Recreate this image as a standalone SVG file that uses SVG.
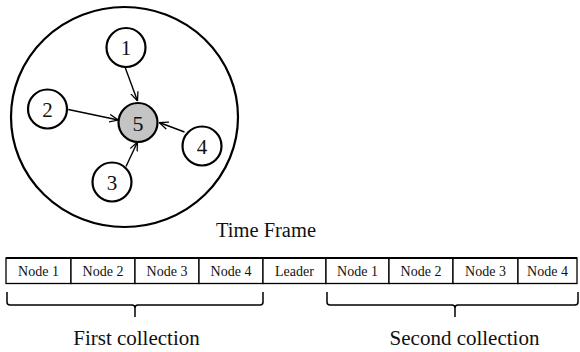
<svg xmlns="http://www.w3.org/2000/svg" width="580" height="352" viewBox="0 0 580 352">
  <style>
    .ring { fill: none; stroke: #000; stroke-width: 2.2; }
    .node circle { fill: #fff; stroke: #000; stroke-width: 2.2; }
    .node.hub circle { fill: #c4c4c4; }
    .num { font-family: "Liberation Serif", "Times New Roman", serif; font-size: 21px; text-anchor: middle; fill: #111; }
    .edge { stroke: #000; stroke-width: 1.4; fill: none; marker-end: url(#head); }
    .cell { fill: #fff; stroke: #000; stroke-width: 1.3; }
    .cell-text { font-family: "Liberation Serif", "Times New Roman", serif; font-size: 14px; text-anchor: middle; fill: #111; }
    .caption { font-family: "Liberation Serif", "Times New Roman", serif; font-size: 20.5px; text-anchor: middle; fill: #111; }
    .brace { fill: none; stroke: #000; stroke-width: 1.5; }
  </style>
  <defs>
    <marker id="head" viewBox="0 0 10 10" refX="10" refY="5" markerWidth="9" markerHeight="9" markerUnits="userSpaceOnUse" orient="auto">
      <path d="M0,0.8 L10,5 L0,9.2" fill="none" stroke="#000" stroke-width="1.4"/>
    </marker>
  </defs>

  <!-- cluster boundary -->
  <ellipse class="ring" cx="124.5" cy="117" rx="113.5" ry="110"/>

  <!-- links from members to the leader -->
  <g id="connectors">
    <line class="edge" x1="125" y1="67" x2="137.5" y2="101"/>
    <line class="edge" x1="68.3" y1="109.5" x2="118.3" y2="120"/>
    <line class="edge" x1="126" y1="166.5" x2="137.5" y2="142"/>
    <line class="edge" x1="184.5" y1="132" x2="159.3" y2="122.5"/>
  </g>

  <g id="node1" class="node">
    <circle cx="126" cy="47.5" r="19.5"/>
    <text class="num" x="126" y="55">1</text>
  </g>
  <g id="node2" class="node">
    <circle cx="47.5" cy="109" r="19.5"/>
    <text class="num" x="47.5" y="116.5">2</text>
  </g>
  <g id="node3" class="node">
    <circle cx="112" cy="182" r="19.5"/>
    <text class="num" x="112" y="189.5">3</text>
  </g>
  <g id="node4" class="node">
    <circle cx="202" cy="146" r="19.5"/>
    <text class="num" x="202" y="153.5">4</text>
  </g>
  <g id="node5" class="node hub">
    <circle cx="138" cy="122.5" r="19.5"/>
    <text class="num" x="138" y="130.5" style="font-size:22px">5</text>
  </g>

  <!-- time frame -->
  <text class="caption" x="266" y="237">Time Frame</text>
  <g id="frame">
    <rect class="cell" x="6" y="258" width="65" height="25.5"/>
    <rect class="cell" x="71" y="258" width="64" height="25.5"/>
    <rect class="cell" x="135" y="258" width="64" height="25.5"/>
    <rect class="cell" x="199" y="258" width="64" height="25.5"/>
    <rect class="cell" x="263" y="258" width="63" height="25.5"/>
    <rect class="cell" x="326" y="258" width="63" height="25.5"/>
    <rect class="cell" x="389" y="258" width="64" height="25.5"/>
    <rect class="cell" x="453" y="258" width="65" height="25.5"/>
    <rect class="cell" x="518" y="258" width="59" height="25.5"/>
    <line x1="6" y1="258" x2="577" y2="258" stroke="#000" stroke-width="1.8"/>
    <text class="cell-text" x="38.5" y="276">Node 1</text>
    <text class="cell-text" x="103" y="276">Node 2</text>
    <text class="cell-text" x="167" y="276">Node 3</text>
    <text class="cell-text" x="231" y="276">Node 4</text>
    <text class="cell-text" x="294.5" y="276">Leader</text>
    <text class="cell-text" x="357.5" y="276">Node 1</text>
    <text class="cell-text" x="421" y="276">Node 2</text>
    <text class="cell-text" x="485.5" y="276">Node 3</text>
    <text class="cell-text" x="547.5" y="276">Node 4</text>
  </g>

  <!-- collection braces -->
  <path class="brace" d="M7,292 V302 Q7,305 10,305 H132 Q135,305 135,308 V317 M135,308 Q135,305 138,305 H260 Q263,305 263,302 V292"/>
  <path class="brace" d="M327,292 V302 Q327,305 330,305 H452 Q455,305 455,308 V317 M455,308 Q455,305 458,305 H575 Q578,305 578,302 V292"/>
  <text class="caption" x="136.5" y="345" style="font-size:21px">First collection</text>
  <text class="caption" x="464.5" y="345" style="font-size:21px">Second collection</text>
</svg>
